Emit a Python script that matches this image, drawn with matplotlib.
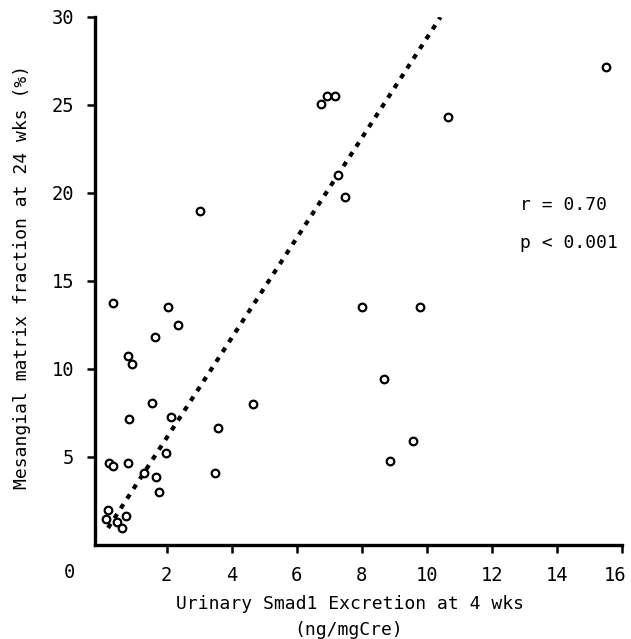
import matplotlib
matplotlib.use("Agg")
import matplotlib.pyplot as plt
import matplotlib.transforms as mtransforms
import numpy as np

# data
smad1 = [15.50, 10.66, 6.75, 6.94, 7.18, 7.27, 7.49, 3.04, 0.35, 2.03,
         2.36, 1.63, 0.81, 0.93, 1.54, 0.84, 2.15, 3.59, 4.65, 1.97,
         0.23, 0.35, 0.81, 1.30, 1.66, 1.76, 3.49, 0.20, 0.14, 0.48,
         0.63, 0.75, 8.01, 9.80, 8.68, 9.56, 8.86]
mesangial = [27.16, 24.32, 25.06, 25.51, 25.51, 21.02, 19.77, 18.98, 13.75, 13.52,
             12.50, 11.82, 10.74, 10.28, 8.07, 7.16, 7.27, 6.65, 8.01, 5.23,
             4.66, 4.49, 4.66, 4.09, 3.86, 3.01, 4.09, 1.99, 1.48, 1.31,
             0.97, 1.65, 13.52, 13.52, 9.43, 5.91, 4.77]
fit_slope = 2.84
fit_intercept = 0.40
fit_xrange = [0.20, 10.42]
xticks = [2, 4, 6, 8, 10, 12, 14, 16]
yticks = [5, 10, 15, 20, 25, 30]
stats_text = ["r = 0.70", "p < 0.001"]

FONT = "DejaVu Sans Mono"
plt.rcParams['font.family'] = [FONT, 'DejaVu Sans']

fig = plt.figure(figsize=(6.31, 6.39), dpi=100)
ax = fig.add_axes([95/631, 1-545/639, (622-95)/631, (545-17)/639])

ax.scatter(smad1, mesangial, s=30, facecolors='white', edgecolors='black',
           linewidths=1.6, zorder=3)
fx = np.array(fit_xrange)
ax.plot(fx, fit_intercept + fit_slope*fx, color='black', lw=3.0,
        linestyle=(0, (1.2, 1.6)), zorder=2)

ax.set_xlim(-0.2, 16)
ax.set_ylim(0, 30)
ax.set_xticks(xticks)
ax.set_yticks(yticks)
ax.set_xticklabels([str(t) for t in xticks])
ax.set_yticklabels([str(t) for t in yticks])
for s in ['top', 'right']:
    ax.spines[s].set_visible(False)
for s in ['left', 'bottom']:
    ax.spines[s].set_linewidth(2.4)
ax.tick_params(axis='both', direction='out', length=6, width=1.8,
               labelsize=13.5, pad=9)

# the last x tick label sits slightly left of its tick in the reference
last = ax.get_xticklabels()[-1]
last.set_transform(last.get_transform() +
                   mtransforms.ScaledTranslation(-7/100, 0, fig.dpi_scale_trans))

fig.text(69/631, 1-572/639, "0", ha='center', va='center', fontsize=13.5)
ax.text(0.806, 0.644, stats_text[0], transform=ax.transAxes, fontsize=13,
        ha='left', va='center')
ax.text(0.806, 0.572, stats_text[1], transform=ax.transAxes, fontsize=13,
        ha='left', va='center')

fig.text(350/631, 1-604/639, "Urinary Smad1 Excretion at 4 wks",
         ha='center', va='center', fontsize=13)
fig.text(349/631, 1-630/639, "(ng/mgCre)", ha='center', va='center', fontsize=13)
fig.text(22/631, 1-277/639, "Mesangial matrix fraction at 24 wks (%)",
         ha='center', va='center', rotation=90, fontsize=13)

fig.savefig("out.png", dpi=100)
